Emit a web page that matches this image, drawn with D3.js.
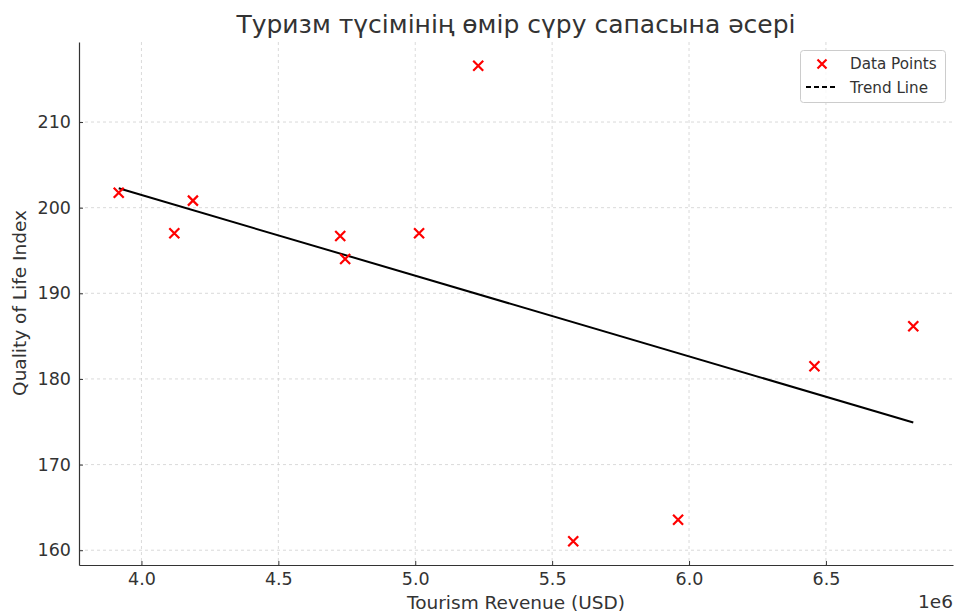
<!DOCTYPE html>
<html><head><meta charset="utf-8">
<script src="https://cdn.jsdelivr.net/npm/d3@7"></script>
<style>body{margin:0;background:#fff}svg{display:block;font-family:"DejaVu Sans",sans-serif}</style>
</head><body><svg id="c" width="955" height="613"></svg>
<script>
const revenue = [3.917e6, 4.120e6, 4.188e6, 4.726e6, 4.744e6, 5.014e6, 5.230e6, 5.577e6, 5.960e6, 6.458e6, 6.819e6];
const quality = [201.75, 197.01, 200.82, 196.69, 194.0, 197.01, 216.57, 161.05, 163.56, 181.49, 186.16];
const xTicks = [4.0e6, 4.5e6, 5.0e6, 5.5e6, 6.0e6, 6.5e6];
const yTicks = [160, 170, 180, 190, 200, 210];
const title = "Туризм түсімінің өмір сүру сапасына әсері";

const svg = d3.select("#c");
const L = 79, R = 953, T = 42, B = 565;
const xmin = d3.min(revenue), xmax = d3.max(revenue), ymin = d3.min(quality), ymax = d3.max(quality);
const xp = (xmax - xmin) * 0.05, yp = (ymax - ymin) * 0.05;
const x = d3.scaleLinear().domain([xmin - xp, xmax + xp]).range([L, R]);
const y = d3.scaleLinear().domain([ymin - yp, ymax + yp]).range([B, T]);

// grid
const g = svg.append("g");
g.selectAll(".gx").data(xTicks).join("line").attr("x1", d => x(d)).attr("x2", d => x(d)).attr("y1", T).attr("y2", B)
  .attr("stroke", "#d0d0d0").attr("stroke-width", 0.8).attr("stroke-dasharray", "3,3");
g.selectAll(".gy").data(yTicks).join("line").attr("y1", d => y(d)).attr("y2", d => y(d)).attr("x1", L).attr("x2", R)
  .attr("stroke", "#d0d0d0").attr("stroke-width", 0.8).attr("stroke-dasharray", "3,3");

// axes
const xa = svg.append("g").attr("transform", `translate(0,${B})`)
  .call(d3.axisBottom(x).tickValues(xTicks).tickFormat(d => (d / 1e6).toFixed(1)).tickSizeInner(-4).tickSizeOuter(0).tickPadding(8));
const ya = svg.append("g").attr("transform", `translate(${L},0)`)
  .call(d3.axisLeft(y).tickValues(yTicks).tickSizeInner(-4).tickSizeOuter(0).tickPadding(8));
[xa, ya].forEach(a => {
  a.select(".domain").attr("stroke", "#333").attr("stroke-width", 1.2);
  a.selectAll(".tick line").attr("stroke", "#333");
  a.selectAll("text").attr("font-size", 17.5).attr("fill", "#333").attr("font-family", "DejaVu Sans");
});

// trend line (least squares)
const mx = d3.mean(revenue), my = d3.mean(quality);
let sxy = 0, sxx = 0;
revenue.forEach((v, i) => { sxy += (v - mx) * (quality[i] - my); sxx += (v - mx) ** 2; });
const slope = sxy / sxx, icpt = my - slope * mx;
svg.append("line").attr("x1", x(xmin)).attr("y1", y(icpt + slope * xmin)).attr("x2", x(xmax)).attr("y2", y(icpt + slope * xmax))
  .attr("stroke", "#000").attr("stroke-width", 2);

// points
const s = 5;
const pts = svg.append("g").selectAll("g").data(revenue.map((v, i) => [v, quality[i]])).join("g")
  .attr("transform", d => `translate(${x(d[0])},${y(d[1])})`);
pts.append("path").attr("d", `M${-s},${-s}L${s},${s}M${-s},${s}L${s},${-s}`).attr("stroke", "red").attr("stroke-width", 2.2);

// title and labels
svg.append("text").attr("x", 516).attr("y", 33).attr("text-anchor", "middle").attr("font-size", 25).attr("fill", "#333").text(title);
svg.append("text").attr("x", 516).attr("y", 609).attr("text-anchor", "middle").attr("font-size", 18.5).attr("fill", "#333").text("Tourism Revenue (USD)");
svg.append("text").attr("transform", "translate(26,303) rotate(-90)").attr("text-anchor", "middle").attr("font-size", 18.5).attr("fill", "#333").text("Quality of Life Index");
svg.append("text").attr("x", 953).attr("y", 608).attr("text-anchor", "end").attr("font-size", 18.5).attr("fill", "#333").text("1e6");

// legend
const lg = svg.append("g");
lg.append("rect").attr("x", 800.5).attr("y", 50.5).attr("width", 145).attr("height", 52).attr("rx", 3)
  .attr("fill", "#fff").attr("fill-opacity", 0.8).attr("stroke", "#ccc");
lg.append("path").attr("transform", "translate(822,64)").attr("d", `M-4.5,-4.5L4.5,4.5M-4.5,4.5L4.5,-4.5`).attr("stroke", "red").attr("stroke-width", 2.2);
lg.append("text").attr("x", 850).attr("y", 69).attr("font-size", 15.2).attr("fill", "#333").text("Data Points");
lg.append("line").attr("x1", 806).attr("x2", 836).attr("y1", 87).attr("y2", 87).attr("stroke", "#000").attr("stroke-width", 2).attr("stroke-dasharray", "5,3");
lg.append("text").attr("x", 850).attr("y", 92.5).attr("font-size", 15.2).attr("fill", "#333").text("Trend Line");
</script></body></html>
